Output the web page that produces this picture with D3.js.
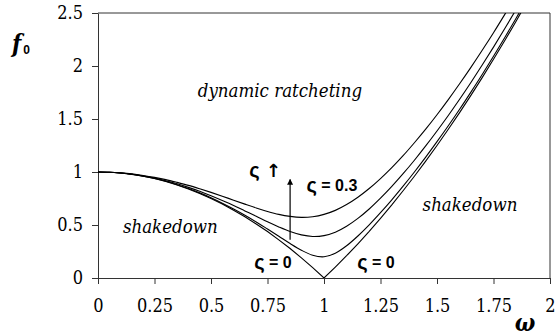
<!DOCTYPE html>
<html>
<head>
<meta charset="utf-8">
<script src="https://cdn.jsdelivr.net/npm/d3@7"></script>
<style>
  body { margin: 0; background: #fff; }
  svg { display: block; }
  .serif { font-family: 'DejaVu Serif Condensed', 'DejaVu Serif', serif; font-stretch: condensed; }
  .sans { font-family: 'Liberation Sans', 'DejaVu Sans', sans-serif; }
</style>
</head>
<body>
<div id="chart"></div>
<script>
// frequency ratio values (x)
const omega = [0, 0.05, 0.1, 0.15, 0.2, 0.25, 0.3, 0.35, 0.4, 0.45, 0.5, 0.55, 0.6, 0.65,
  0.7, 0.75, 0.8, 0.85, 0.9, 0.95, 1, 1.05, 1.1, 1.15, 1.2, 1.25, 1.3, 1.35, 1.4, 1.45,
  1.5, 1.55, 1.6, 1.65, 1.7, 1.75, 1.8, 1.85, 1.9]

// f0, one array per damping value
const zeta0 = [1, 0.998, 0.99, 0.978, 0.96, 0.938, 0.91, 0.878, 0.84, 0.798, 0.75, 0.698,
  0.64, 0.578, 0.51, 0.438, 0.36, 0.278, 0.19, 0.098, 0, 0.103, 0.21, 0.323, 0.44, 0.563,
  0.69, 0.823, 0.96, 1.103, 1.25, 1.403, 1.56, 1.723, 1.89, 2.063, 2.24, 2.423, 2.61]
const zeta01 = [1, 0.998, 0.99, 0.978, 0.961, 0.939, 0.912, 0.88, 0.844, 0.803, 0.757, 0.706,
  0.651, 0.592, 0.529, 0.462, 0.394, 0.325, 0.262, 0.214, 0.2, 0.234, 0.304, 0.396, 0.501,
  0.616, 0.737, 0.866, 1, 1.14, 1.286, 1.436, 1.592, 1.754, 1.92, 2.092, 2.269, 2.451, 2.638]
const zeta02 = [1, 0.998, 0.991, 0.979, 0.963, 0.943, 0.918, 0.889, 0.855, 0.818, 0.776, 0.731,
  0.684, 0.633, 0.582, 0.53, 0.482, 0.439, 0.407, 0.392, 0.4, 0.432, 0.488, 0.562, 0.651,
  0.753, 0.864, 0.984, 1.111, 1.246, 1.387, 1.533, 1.686, 1.845, 2.009, 2.178, 2.353, 2.533, 2.718]
const zeta03 = [1, 0.998, 0.992, 0.982, 0.967, 0.949, 0.928, 0.902, 0.874, 0.842, 0.808, 0.772,
  0.734, 0.697, 0.661, 0.628, 0.6, 0.581, 0.572, 0.578, 0.6, 0.638, 0.693, 0.762, 0.844,
  0.938, 1.041, 1.154, 1.276, 1.404, 1.54, 1.683, 1.832, 1.987, 2.148, 2.314, 2.487, 2.665, 2.848]

const xTicks = [0, 0.25, 0.5, 0.75, 1, 1.25, 1.5, 1.75, 2]
const yTicks = [0, 0.5, 1, 1.5, 2, 2.5]

const width = 555
const height = 336
const plotLeft = 98, plotRight = 550, plotTop = 13, plotBottom = 278

const x = d3.scaleLinear().domain([0, 2]).range([plotLeft, plotRight])
const y = d3.scaleLinear().domain([0, 2.5]).range([plotBottom, plotTop])

const svg = d3.select('#chart')
  .append('svg')
  .attr('width', width)
  .attr('height', height)

const defs = svg.append('defs')
defs.append('clipPath')
  .attr('id', 'plot-clip')
  .append('rect')
  .attr('x', plotLeft)
  .attr('y', plotTop)
  .attr('width', plotRight - plotLeft)
  .attr('height', plotBottom - plotTop)

// frame (top and right)
svg.append('path')
  .attr('d', `M${plotLeft},${plotTop}H${plotRight}V${plotBottom}`)
  .attr('fill', 'none')
  .attr('stroke', '#333')
  .attr('stroke-width', 1)

// x axis
svg.append('g')
  .attr('class', 'axis')
  .attr('transform', `translate(0,${plotBottom})`)
  .call(d3.axisBottom(x).tickValues(xTicks).tickSize(6).tickSizeOuter(0).tickPadding(15)
    .tickFormat(d3.format('')))

// y axis
svg.append('g')
  .attr('class', 'axis')
  .attr('transform', `translate(${plotLeft},0)`)
  .call(d3.axisLeft(y).tickValues(yTicks).tickSize(6).tickSizeOuter(0).tickPadding(9)
    .tickFormat(d3.format('')))

svg.selectAll('.axis')
  .attr('font-family', null)
  .attr('font-size', null)
svg.selectAll('.domain, .tick line').attr('stroke', '#333')
svg.selectAll('.tick text')
  .attr('class', 'serif')
  .style('font-size', '18px')
  .attr('fill', '#000')

// curves
const series = [zeta0, zeta01, zeta02, zeta03]
const lineSharp = d3.line()
  .x((d, i) => x(omega[i]))
  .y(d => y(d))
const lineSmooth = d3.line()
  .x((d, i) => x(omega[i]))
  .y(d => y(d))
  .curve(d3.curveCatmullRom)

svg.append('g')
  .attr('clip-path', 'url(#plot-clip)')
  .selectAll('path')
  .data(series)
  .enter()
  .append('path')
  .attr('d', (d, i) => i === 0 ? lineSharp(d) : lineSmooth(d))
  .attr('fill', 'none')
  .attr('stroke', '#000')
  .attr('stroke-width', 1.1)

// arrow marker
defs.append('marker')
  .attr('id', 'arrow')
  .attr('viewBox', '0 0 10 10')
  .attr('refX', 9)
  .attr('refY', 5)
  .attr('markerWidth', 6)
  .attr('markerHeight', 8)
  .attr('markerUnits', 'userSpaceOnUse')
  .attr('orient', 'auto')
  .append('path')
  .attr('d', 'M0,0L10,5L0,10Z')
  .attr('fill', '#000')

svg.append('line')
  .attr('x1', x(0.85))
  .attr('x2', x(0.85))
  .attr('y1', y(0.36))
  .attr('y2', y(0.93))
  .attr('stroke', '#000')
  .attr('stroke-width', 1.2)
  .attr('marker-end', 'url(#arrow)')

// region labels
const regions = [
  { t: 'dynamic ratcheting', x: 0.805, y: 1.71 },
  { t: 'shakedown', x: 0.32, y: 0.425 },
  { t: 'shakedown', x: 1.646, y: 0.632 }
]
svg.selectAll('.region')
  .data(regions)
  .enter()
  .append('text')
  .attr('class', 'region serif')
  .attr('x', d => x(d.x))
  .attr('y', d => y(d.y))
  .attr('text-anchor', 'middle')
  .style('font-style', 'italic')
  .style('font-size', '18.5px')
  .text(d => d.t)

// damping labels
const zetaLabels = [
  { t: ' = 0.3', x: 1.035, y: 0.877 },
  { t: ' = 0', x: 0.774, y: 0.151 },
  { t: ' = 0', x: 1.23, y: 0.151 },
  { t: ' ↑', x: 0.739, y: 1.02 }
]
const zl = svg.selectAll('.zeta')
  .data(zetaLabels)
  .enter()
  .append('text')
  .attr('class', 'zeta sans')
  .attr('x', d => x(d.x))
  .attr('y', d => y(d.y))
  .attr('text-anchor', 'middle')
  .attr('dominant-baseline', 'central')
  .attr('fill', '#000')
  .style('font-weight', 'bold')
  .style('font-size', '16px')
zl.append('tspan')
  .style('font-size', '20px')
  .text('ς')
zl.append('tspan')
  .style('font-family', d => d.t === ' ↑' ? "'DejaVu Sans', sans-serif" : null)
  .style('font-size', d => d.t === ' ↑' ? '18px' : '16px')
  .text(d => d.t)

// axis titles
const f0 = svg.append('text')
  .attr('x', 12)
  .attr('y', 52)
f0.append('tspan')
  .attr('class', 'serif')
  .style('font-style', 'italic')
  .style('font-weight', 'bold')
  .style('font-size', '24px')
  .text('f')
f0.append('tspan')
  .attr('class', 'sans')
  .attr('dx', 2)
  .attr('dy', 2)
  .style('font-weight', 'bold')
  .style('font-size', '12px')
  .text('0')

svg.append('text')
  .attr('class', 'serif')
  .attr('x', 525)
  .attr('y', 331)
  .attr('text-anchor', 'middle')
  .style('font-style', 'italic')
  .style('font-weight', 'bold')
  .style('font-size', '24px')
  .text('ω')
</script>
</body>
</html>
